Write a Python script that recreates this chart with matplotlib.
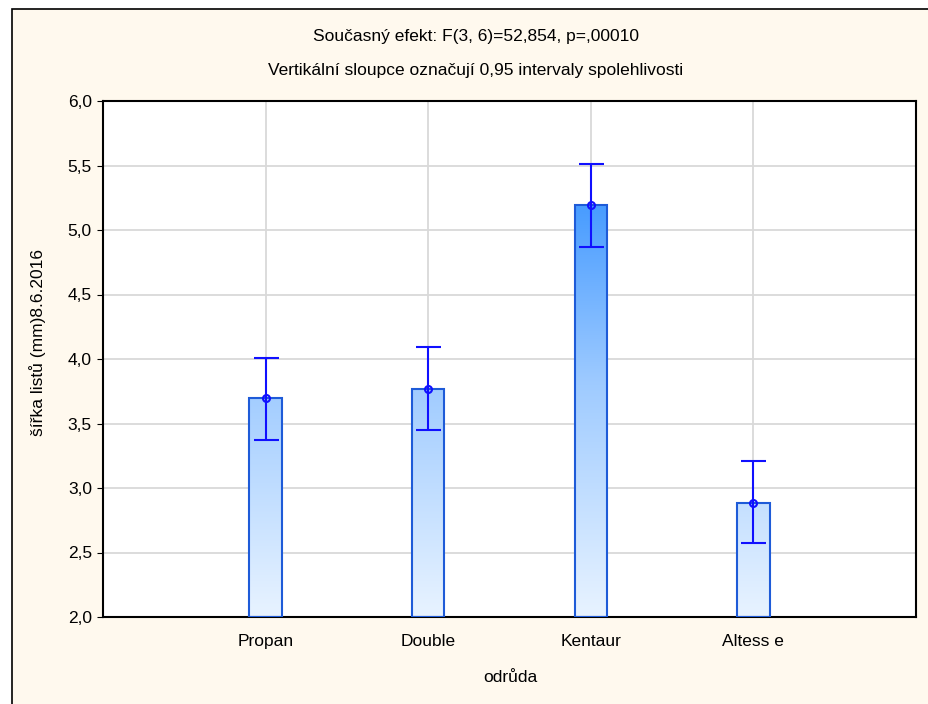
import numpy as np
import matplotlib
matplotlib.use("Agg")
import matplotlib.pyplot as plt
from matplotlib.patches import Rectangle
from matplotlib.colors import LinearSegmentedColormap

categories = ["Propan", "Double", "Kentaur", "Altess e"]
means = [3.70, 3.77, 5.19, 2.88]
ci_low = [3.37, 3.45, 4.87, 2.57]
ci_high = [4.01, 4.09, 5.51, 3.21]
yticks = [2.0, 2.5, 3.0, 3.5, 4.0, 4.5, 5.0, 5.5, 6.0]
ytick_labels = ["2,0", "2,5", "3,0", "3,5", "4,0", "4,5", "5,0", "5,5", "6,0"]
title1 = "Současný efekt: F(3, 6)=52,854, p=,00010"
title2 = "Vertikální sloupce označují 0,95 intervaly spolehlivosti"
xlabel = "odrůda"
ylabel = "šířka listů (mm)8.6.2016"

plt.rcParams['font.family'] = ['Liberation Sans', 'DejaVu Sans']
FS = 12.5

W, H = 929, 704
fig = plt.figure(figsize=(W / 100, H / 100), dpi=100)
fig.patch.set_facecolor("white")
# frame background
fig.patches.append(Rectangle((12 / W, -0.1), 1.2, (H - 9) / H + 0.1, transform=fig.transFigure,
                             facecolor="#FFF9EE", edgecolor="black", linewidth=1.2, zorder=-10))

ax = fig.add_axes([103 / W, (H - 617) / H, (916 - 103) / W, (617 - 101) / H])
ax.set_facecolor("white")
ax.set_xlim(0, 5)
ax.set_ylim(2.0, 6.0)

x = np.arange(1, len(categories) + 1)
cmap = LinearSegmentedColormap.from_list("g", ["#E8F3FF", "#9FCBFF", "#2E8EFF"])
bw = 0.2
grad = np.linspace(0, 1, 256).reshape(-1, 1)
for xi, m in zip(x, means):
    rect = Rectangle((xi - bw / 2, 2.0), bw, m - 2.0, facecolor="none", edgecolor="#1E5BD8",
                     linewidth=1.5, zorder=3)
    ax.add_patch(rect)
    im = ax.imshow(grad, extent=(xi - bw / 2, xi + bw / 2, 2.0, 5.6), origin="lower",
                   cmap=cmap, aspect="auto", zorder=2, interpolation="bilinear")
    im.set_clip_path(rect)

yerr = [np.array(means) - np.array(ci_low), np.array(ci_high) - np.array(means)]
ax.errorbar(x, means, yerr=yerr, fmt="o", color="#1010FF", ecolor="#1010FF", elinewidth=1.5,
            capsize=9, capthick=1.5, markersize=5, markerfacecolor="none", markeredgewidth=1.5,
            zorder=5)

ax.set_xticks(x)
ax.set_xticklabels(categories, fontsize=FS)
ax.set_yticks(yticks)
ax.set_yticklabels(ytick_labels, fontsize=FS)
ax.grid(True, color="#D9D9D9", linewidth=1.3, zorder=0)
ax.set_axisbelow(True)
ax.tick_params(axis="x", direction="in", length=3, pad=12)
ax.tick_params(axis="y", direction="out", length=4, pad=4)
for s in ax.spines.values():
    s.set_linewidth(1.5)
    s.set_color("black")

fig.text(476 / W, 1 - 37 / H, title1, ha="center", va="center", fontsize=FS)
fig.text(476 / W, 1 - 70 / H, title2, ha="center", va="center", fontsize=FS)
fig.text(510 / W, 1 - 677 / H, xlabel, ha="center", va="center", fontsize=FS)
fig.text(38 / W, 1 - 342 / H, ylabel, ha="center", va="center", rotation=90, fontsize=FS)

fig.savefig("out.png", dpi=100, facecolor=fig.get_facecolor())
